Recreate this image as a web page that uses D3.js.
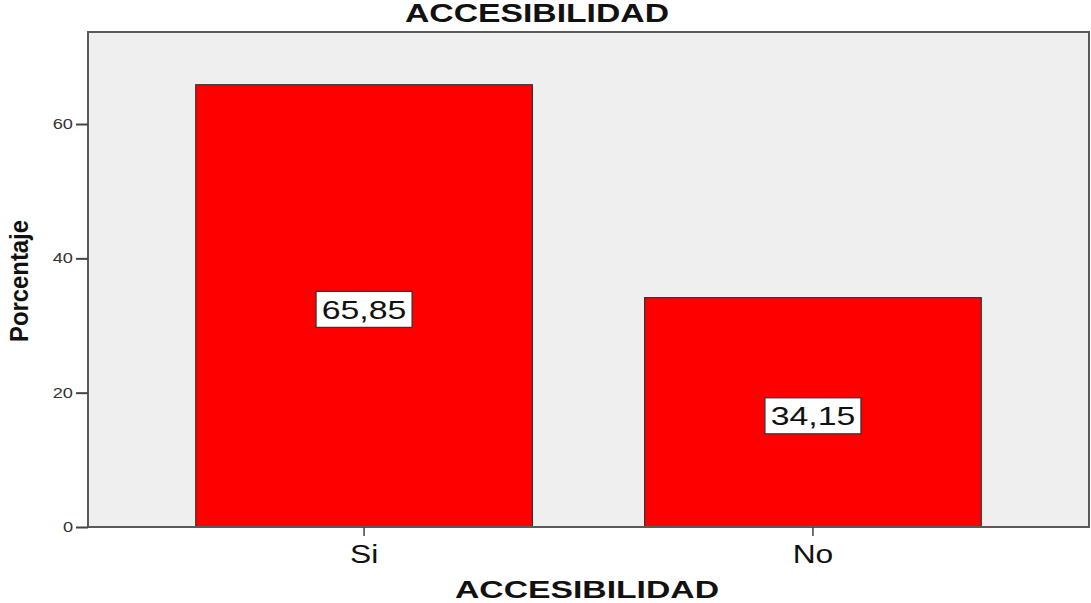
<!DOCTYPE html>
<html>
<head>
<meta charset="utf-8">
<script src="https://cdn.jsdelivr.net/npm/d3@7"></script>
<style>
  body { margin: 0; background: #fff; }
  svg { display: block; font-family: "Liberation Sans", Arial, sans-serif; }
</style>
</head>
<body>
<svg id="chart" width="1091" height="603"></svg>
<script>
const categories = ["Si", "No"];
const percentages = [65.85, 34.15];
const valueLabels = ["65,85", "34,15"];
const yTicks = [0, 20, 40, 60];

const svg = d3.select("#chart");
const plot = { left: 88, right: 1089, top: 32, bottom: 527 };

// the reference text is drawn wider than the font, so stretch it
function stretch(selection, k) {
    selection.each(function() {
        const len = this.getComputedTextLength();
        d3.select(this)
            .attr("textLength", len * k)
            .attr("lengthAdjust", "spacingAndGlyphs");
    });
}

// Scales
const xScale = d3.scaleBand()
    .domain(categories)
    .range([plot.left, plot.right])
    .paddingInner(0.25)
    .paddingOuter(0.24);
const yScale = d3.scaleLinear()
    .domain([0, 73.7])
    .range([plot.bottom, plot.top]);

// Plot background
svg.append("rect")
    .attr("x", plot.left)
    .attr("y", plot.top)
    .attr("width", plot.right - plot.left)
    .attr("height", plot.bottom - plot.top)
    .attr("fill", "#efefef");

// Bars
svg.selectAll(".bar").data(percentages).enter().append("rect")
    .attr("class", "bar")
    .attr("x", (d, i) => xScale(categories[i]))
    .attr("y", d => yScale(d))
    .attr("width", xScale.bandwidth())
    .attr("height", d => yScale(0) - yScale(d))
    .attr("fill", "#ff0000")
    .attr("stroke", "#333")
    .attr("stroke-width", 1.2);

// Frame
svg.append("rect")
    .attr("x", plot.left)
    .attr("y", plot.top)
    .attr("width", plot.right - plot.left)
    .attr("height", plot.bottom - plot.top)
    .attr("fill", "none")
    .attr("stroke", "#5a5a5a")
    .attr("stroke-width", 2);

// Axes
const yAxis = d3.axisLeft(yScale).tickValues(yTicks).tickSize(12).tickPadding(3);
const yG = svg.append("g")
    .attr("transform", `translate(${plot.left},0)`)
    .call(yAxis);
yG.select(".domain").remove();
yG.selectAll("line").attr("stroke", "#444").attr("stroke-width", 2);
yG.selectAll("text").attr("font-size", 14).attr("fill", "#333")
    .attr("font-family", "'Liberation Sans', Arial, sans-serif")
    .call(stretch, 1.3);

const xAxis = d3.axisBottom(xScale).tickSize(9).tickPadding(9);
const xG = svg.append("g")
    .attr("transform", `translate(0,${plot.bottom})`)
    .call(xAxis);
xG.select(".domain").remove();
xG.selectAll("line").attr("stroke", "#444").attr("stroke-width", 1.5);
xG.selectAll("text").attr("font-size", 25).attr("fill", "#111")
    .attr("font-family", "'Liberation Sans', Arial, sans-serif")
    .call(stretch, 1.27);

// Value labels in boxes
const labels = svg.selectAll(".vlabel").data(percentages).enter().append("g")
    .attr("class", "vlabel")
    .attr("transform", (d, i) =>
        `translate(${xScale(categories[i]) + xScale.bandwidth() / 2},${(yScale(d) + yScale(0)) / 2 + 3.5})`);
labels.append("rect")
    .attr("x", -48)
    .attr("y", -18)
    .attr("width", 96)
    .attr("height", 36)
    .attr("fill", "#fff")
    .attr("stroke", "#333")
    .attr("stroke-width", 1.2);
labels.append("text")
    .attr("text-anchor", "middle")
    .attr("dy", "0.36em")
    .attr("font-size", 26)
    .attr("fill", "#111")
    .text((d, i) => valueLabels[i])
    .call(stretch, 1.3);

// Titles
svg.append("text")
    .attr("x", 537)
    .attr("y", 22)
    .attr("text-anchor", "middle")
    .attr("font-size", 25)
    .attr("font-weight", "bold")
    .attr("fill", "#111")
    .attr("textLength", 264)
    .attr("lengthAdjust", "spacingAndGlyphs")
    .text("ACCESIBILIDAD");

svg.append("text")
    .attr("x", 587)
    .attr("y", 598)
    .attr("text-anchor", "middle")
    .attr("font-size", 24)
    .attr("font-weight", "bold")
    .attr("fill", "#111")
    .attr("textLength", 264)
    .attr("lengthAdjust", "spacingAndGlyphs")
    .text("ACCESIBILIDAD");

svg.append("text")
    .attr("transform", "translate(28,281) rotate(-90)")
    .attr("text-anchor", "middle")
    .attr("font-size", 25)
    .attr("font-weight", "bold")
    .attr("fill", "#111")
    .attr("textLength", 122)
    .attr("lengthAdjust", "spacingAndGlyphs")
    .text("Porcentaje");
</script>
</body>
</html>
